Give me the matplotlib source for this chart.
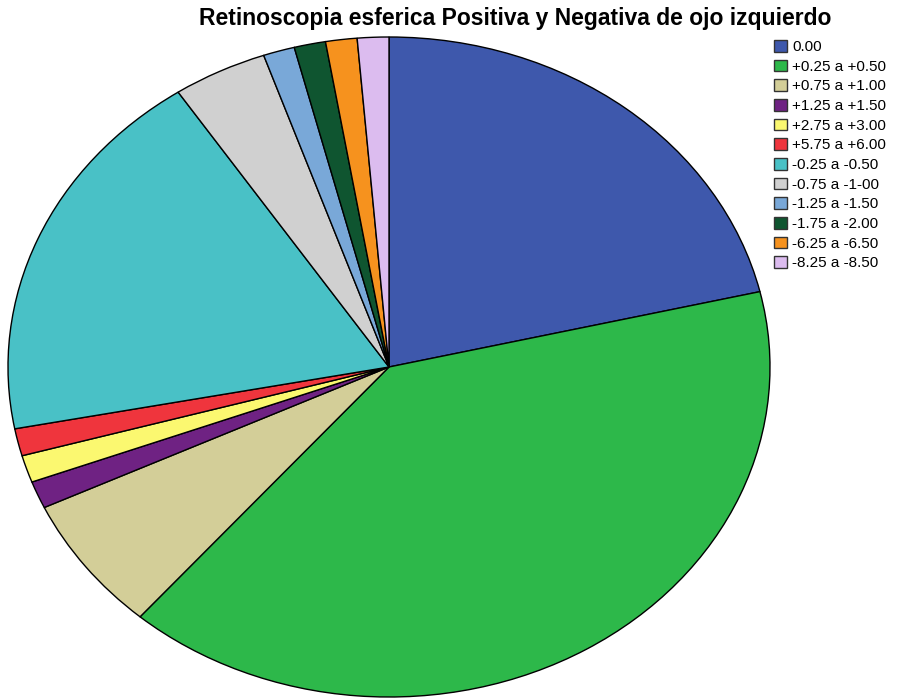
import matplotlib
matplotlib.use("Agg")
import matplotlib.pyplot as plt
from matplotlib.patches import Patch

plt.rcParams['font.family'] = ['Liberation Sans', 'DejaVu Sans']

categories = ["0.00", "+0.25 a +0.50", "+0.75 a +1.00", "+1.25 a +1.50",
              "+2.75 a +3.00", "+5.75 a +6.00", "-0.25 a -0.50", "-0.75 a -1-00",
              "-1.25 a -1.50", "-1.75 a -2.00", "-6.25 a -6.50", "-8.25 a -8.50"]
counts = [16, 30, 5, 1, 1, 1, 14, 3, 1, 1, 1, 1]
colors = ["#3e58ac", "#2db84a", "#d3ce98", "#6f2283", "#fbf870", "#ef353d",
          "#49c1c6", "#d0d0d0", "#79a8d8", "#0f5530", "#f6921e", "#dcbcef"]

W, H = 909, 698
fig = plt.figure(figsize=(W / 100, H / 100), dpi=100)
ax = fig.add_axes([8 / W, 1 / H, 762 / W, 660 / H])
ax.pie(counts, colors=colors, startangle=90, counterclock=False,
       wedgeprops=dict(edgecolor="black", linewidth=1.0))
ax.set_aspect("auto")
ax.set_xlim(-1.0, 1.0)
ax.set_ylim(-1.0, 1.0)
ax.axis("off")

fig.text(515 / W, 1 - 19 / H, "Retinoscopia esferica Positiva y Negativa de ojo izquierdo",
         ha="center", va="center", fontsize=16.5, fontweight="bold")

handles = [Patch(facecolor=c, edgecolor="#333333", linewidth=1.0) for c in colors]
fig.legend(handles, categories, loc="upper left", bbox_to_anchor=(774 / W, 1 - 40 / H),
           frameon=False, fontsize=11, handlelength=0.85, handleheight=0.8,
           handletextpad=0.35, labelspacing=0.36, borderpad=0.0, borderaxespad=0.0)

fig.savefig("out.png", dpi=100)
